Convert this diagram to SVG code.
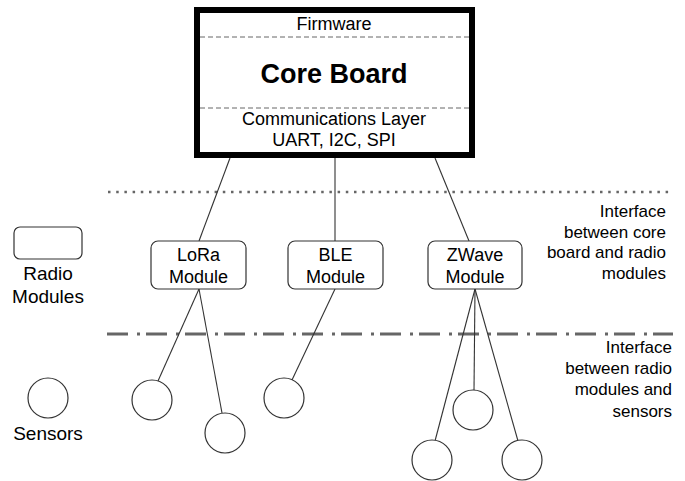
<svg xmlns="http://www.w3.org/2000/svg" width="685" height="481" viewBox="0 0 685 481">
<style>
text{font-family:"Liberation Sans",Arial,sans-serif;fill:#000}
.t18{font-size:18px;text-anchor:middle}
.t19{font-size:19px;text-anchor:middle}
.ifc{font-size:17px;text-anchor:end}
.mod{fill:#fff;stroke:#333;stroke-width:1.2}
.sen{fill:#fff;stroke:#333;stroke-width:1.2}
.con{stroke:#333;stroke-width:1.1;fill:none}
.sep{stroke:#666;stroke-width:1;stroke-dasharray:5 3}
</style>
<rect width="685" height="481" fill="#fff"/>
<g id="separators">
<line x1="108" y1="192" x2="673" y2="192" stroke="#666" stroke-width="2.5" stroke-dasharray="2.5 5.7"/>
<line x1="107" y1="334" x2="673" y2="334" stroke="#666" stroke-width="3" stroke-dasharray="21 9 3 6"/>
</g>
<g id="connectors">
<line class="con" x1="230" y1="158" x2="199" y2="241"/>
<line class="con" x1="335" y1="158" x2="335" y2="241"/>
<line class="con" x1="435" y1="158" x2="469" y2="241"/>
<line class="con" x1="199" y1="289" x2="158" y2="381"/>
<line class="con" x1="199" y1="289" x2="222" y2="413"/>
<line class="con" x1="335" y1="289" x2="292" y2="380"/>
<line class="con" x1="475" y1="289" x2="435" y2="441"/>
<line class="con" x1="475" y1="289" x2="474" y2="390"/>
<line class="con" x1="475" y1="289" x2="518" y2="441"/>
</g>
<g id="core-board">
<rect x="197" y="10" width="275" height="145" fill="#fff" stroke="#000" stroke-width="6"/>
<line class="sep" x1="200" y1="37" x2="469" y2="37"/>
<line class="sep" x1="200" y1="108" x2="469" y2="108"/>
<text class="t18" x="334" y="30">Firmware</text>
<text x="334" y="83" style="font-size:27px;font-weight:bold;text-anchor:middle">Core Board</text>
<text class="t18" x="334" y="125">Communications Layer</text>
<text class="t18" x="334" y="146">UART, I2C, SPI</text>
</g>
<g id="legend-radio">
<rect class="mod" x="14" y="227" width="68" height="32" rx="6"/>
<text class="t19" x="48" y="280">Radio</text>
<text class="t19" x="48" y="303">Modules</text>
</g>
<g id="legend-sensors">
<circle class="sen" cx="48" cy="398" r="20"/>
<text class="t19" x="48" y="440">Sensors</text>
</g>
<g id="lora">
<rect class="mod" x="151" y="241" width="95" height="48" rx="7"/>
<text class="t18" x="198.5" y="261">LoRa</text>
<text class="t18" x="198.5" y="283">Module</text>
</g>
<g id="ble">
<rect class="mod" x="288" y="241" width="95" height="48" rx="7"/>
<text class="t18" x="335.5" y="261">BLE</text>
<text class="t18" x="335.5" y="283">Module</text>
</g>
<g id="zwave">
<rect class="mod" x="428" y="241" width="94" height="48" rx="7"/>
<text class="t18" x="475" y="261">ZWave</text>
<text class="t18" x="475" y="283">Module</text>
</g>
<g id="sensor-lora-1"><circle class="sen" cx="152" cy="400" r="20"/></g>
<g id="sensor-lora-2"><circle class="sen" cx="225" cy="433" r="20"/></g>
<g id="sensor-ble-1"><circle class="sen" cx="284" cy="398" r="20"/></g>
<g id="sensor-zwave-1"><circle class="sen" cx="432" cy="460" r="20"/></g>
<g id="sensor-zwave-2"><circle class="sen" cx="473" cy="410" r="20"/></g>
<g id="sensor-zwave-3"><circle class="sen" cx="522" cy="460" r="20"/></g>
<g id="label-interface-core">
<text class="ifc" x="666" y="217">Interface</text>
<text class="ifc" x="666" y="238">between core</text>
<text class="ifc" x="666" y="258">board and radio</text>
<text class="ifc" x="666" y="279">modules</text>
</g>
<g id="label-interface-sensors">
<text class="ifc" x="672" y="353">Interface</text>
<text class="ifc" x="672" y="374">between radio</text>
<text class="ifc" x="672" y="395">modules and</text>
<text class="ifc" x="672" y="417">sensors</text>
</g>
</svg>
